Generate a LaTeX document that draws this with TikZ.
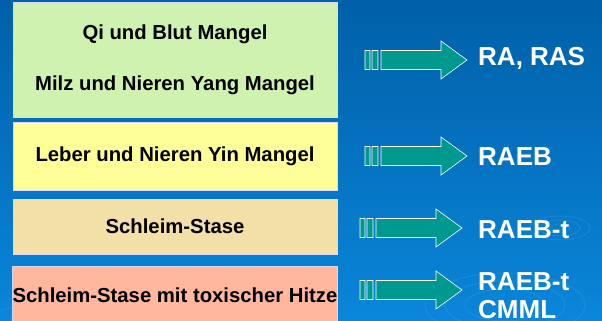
\documentclass[tikz,border=0pt]{standalone}
\usepackage{fontspec}
\setmainfont{Liberation Sans}
\usetikzlibrary{positioning}

\definecolor{bgtop}{HTML}{0060A8}
\definecolor{bgbot}{HTML}{0A86DA}
\definecolor{qigreen}{HTML}{CFF2B0}
\definecolor{yinyellow}{HTML}{FFFF99}
\definecolor{stasetan}{HTML}{F3DFA8}
\definecolor{hitzered}{HTML}{FFB89E}
\definecolor{arrowteal}{HTML}{00998F}

\tikzset{
  box/.style={draw=white!85!blue,line width=0.8pt,minimum width=324pt,inner sep=0pt,
    font=\fontsize{20.3}{24}\selectfont\bfseries,text=black},
  result/.style={anchor=west,inner sep=0pt,text=white,align=left,
    font=\fontsize{26}{28}\selectfont\bfseries},
  ripple/.style={draw=white,opacity=0.08,line width=1pt}
}

% block arrow: #1 = left end of stripes, #2 = middle y
\newcommand\blockarrow[2]{
  \filldraw[fill=arrowteal,draw=white,line width=0.6pt]
    (#1,#2-9.5) rectangle ++(5,19)
    (#1+7,#2-9.5) rectangle ++(6,19)
    (#1+16,#2-9.5) -- ++(60,0) -- ++(0,-9.5) -- (#1+102,#2)
      -- (#1+76,#2+19) -- ++(0,-9.5) -- (#1+16,#2+9.5) -- cycle;
}

\begin{document}
\begin{tikzpicture}[x=1pt,y=-1pt]
\shade[top color=bgtop,bottom color=bgbot] (0,0) rectangle (602,321);
\clip (0,0) rectangle (602,321);

% ripples in the background
\foreach \r in {10,20,30} \draw[ripple] (560,228) ellipse ({\r} and {\r*0.4});
\foreach \r in {40,60,80} \draw[ripple] (505,305) ellipse ({\r} and {\r*0.4});
\foreach \r in {15,30} \draw[ripple] (25,318) ellipse ({\r} and {\r*0.4});

\node[box,fill=qigreen,minimum height=115pt,align=center] (qi) at (175,59.5)
  {Qi und Blut Mangel\\[27pt]Milz und Nieren Yang Mangel};
\node[box,fill=yinyellow,minimum height=68pt] (yin) at (175,156) {Leber und Nieren Yin Mangel};
\node[box,fill=stasetan,minimum height=55pt] (stase) at (175,226.5) {Schleim-Stase};
\node[box,fill=hitzered,minimum height=58pt] (hitze) at (175,295) {Schleim-Stase mit toxischer Hitze};

\node[result] (ras) at (478,58) {RA, RAS};
\node[result] (raeb) at (478,157) {RAEB};
\node[result] (raebt) at (478,230) {RAEB-t};
\node[result] (cmml) at (478,296) {RAEB-t\\CMML};

\blockarrow{365}{60}
\blockarrow{365}{156}
\blockarrow{360}{228}
\blockarrow{360}{290}
\end{tikzpicture}
\end{document}
